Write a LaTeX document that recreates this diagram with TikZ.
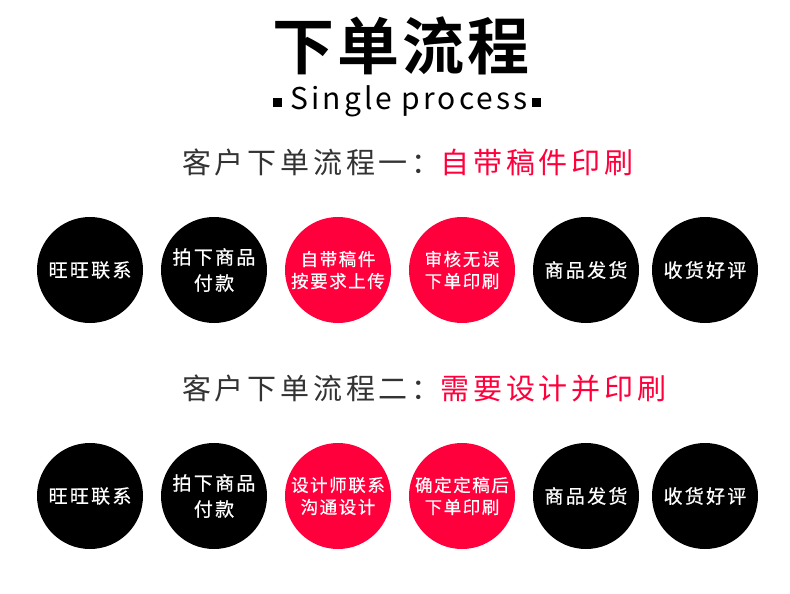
\documentclass[tikz,border=0pt]{standalone}
\usepackage{fontspec}
\setmainfont{Noto Sans CJK SC}
\newfontfamily\titlefont[LetterSpace=5]{Noto Sans CJK SC Bold}
\newfontfamily\headfont[LetterSpace=13]{Noto Sans CJK SC}
\newfontfamily\subfont[LetterSpace=10]{Noto Sans CJK SC}
\newfontfamily\stepfont[LetterSpace=12,FakeBold=0.6]{Noto Sans CJK SC}
\newfontfamily\redstepfont[LetterSpace=9,FakeBold=0.6]{Noto Sans CJK SC}
\definecolor{flowred}{HTML}{FF003C}
\definecolor{flowgray}{HTML}{333333}
\tikzset{
  stepdot/.style={circle,fill=black,minimum size=106pt,inner sep=0pt,text=white,align=center,font=\stepfont\fontsize{19}{26}\selectfont},
  reddot/.style={stepdot,fill=flowred,font=\redstepfont\fontsize{17.5}{22}\selectfont},
  headline/.style={anchor=west,inner sep=0pt,text=flowgray,font=\headfont\fontsize{29}{32}\selectfont},
}
\begin{document}
\begin{tikzpicture}[x=1pt,y=-1pt]
\useasboundingbox[fill=white] (0,0) rectangle (790,594);
% title
\node[inner sep=0pt,font=\titlefont\fontsize{62}{66}\selectfont] (title) at (401,45.5) {下单流程};
\node[anchor=base,inner sep=0pt,font=\subfont\fontsize{30}{32}\selectfont] (subtitle) at (409,110) {Single process};
\fill (273,98) rectangle (282,107);
\fill (532,98) rectangle (541,107);

% flow one
\node[headline] (head1) at (182,162) {客户下单流程一：\textcolor{flowred}{自带稿件印刷}};
\node[stepdot] (a1) at (90,270) {旺旺联系};
\node[stepdot] (a2) at (214,270) {拍下商品\\付款};
\node[reddot] (a3) at (338,270) {自带稿件\\按要求上传};
\node[reddot] (a4) at (462,270) {审核无误\\下单印刷};
\node[stepdot] (a5) at (586,270) {商品发货};
\node[stepdot] (a6) at (705,270) {收货好评};

% flow two
\node[headline] (head2) at (182,388) {客户下单流程二：\textcolor{flowred}{需要设计并印刷}};
\node[stepdot] (b1) at (90,496) {旺旺联系};
\node[stepdot] (b2) at (214,496) {拍下商品\\付款};
\node[reddot] (b3) at (338,496) {设计师联系\\沟通设计};
\node[reddot] (b4) at (462,496) {确定定稿后\\下单印刷};
\node[stepdot] (b5) at (586,496) {商品发货};
\node[stepdot] (b6) at (705,496) {收货好评};
\end{tikzpicture}
\end{document}
